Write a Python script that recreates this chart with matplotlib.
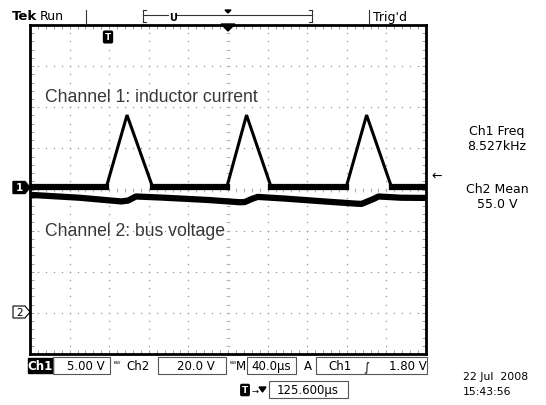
import numpy as np
import matplotlib
matplotlib.use("Agg")
import matplotlib.pyplot as plt
from matplotlib.patches import Polygon, Rectangle

# ---------------- data ----------------
# Channel 1: inductor current (A, displayed 5.00 V/div), time in microseconds
ch1_t = [-200, -123, -102, -76, -1.3, 18.7, 43.7, 119.3, 140, 165.3, 200]
ch1_a = [0, 0, 8.8, 0, 0, 8.8, 0, 0, 8.8, 0, 0]
# Channel 2: bus voltage (V, 20.0 V/div)
ch2_t = [-200, -150, -108, -101, -93, -68, -20, 12, 17, 24, 30, 57, 100, 130, 135, 147, 152, 175, 200]
ch2_v = [57.0, 55.6, 53.8, 54.2, 56.2, 55.7, 54.5, 53.4, 53.5, 55.0, 56.0, 55.2, 53.7, 52.7, 52.6, 55.0, 56.2, 55.6, 55.5]

ch1_scale = 5.0     # per division
ch2_scale = 20.0
ch1_offset = 0.05   # divisions
ch2_offset = -2.98

W, H = 546, 406
fig = plt.figure(figsize=(W / 100, H / 100), dpi=100)
fig.patch.set_facecolor("white")

def fx(x):
    return x / W

def fy(y):
    return 1 - y / H

ax = fig.add_axes([fx(30), fy(355), 396 / W, 329 / H])
ax.set_xlim(-200, 200)
ax.set_ylim(-4, 4)
ax.set_facecolor("white")

# graticule dots
gcol = "#9a9a9a"
dots_x = np.arange(-200, 200.1, 8)
dots_y = np.arange(-4, 4.01, 0.2)
for gx in np.arange(-160, 161, 40):
    ax.scatter(np.full_like(dots_y, gx), dots_y, s=1.1, color=gcol, lw=0, zorder=1)
for gy in np.arange(-3, 3.1, 1):
    ax.scatter(dots_x, np.full_like(dots_x, gy, dtype=float), s=1.1, color=gcol, lw=0, zorder=1)
# center cross tick marks
ax.scatter(dots_x, np.zeros_like(dots_x), marker="|", s=10, color="#b0b0b0", lw=0.6, zorder=1)
ax.scatter(np.zeros_like(dots_y), dots_y, marker="_", s=10, color="#b0b0b0", lw=0.6, zorder=1)

# edge ticks
ax.set_xticks(np.arange(-200, 201, 40))
ax.set_xticks(np.arange(-200, 201, 8), minor=True)
ax.set_yticks(np.arange(-4, 4.1, 1))
ax.set_yticks(np.arange(-4, 4.01, 0.2), minor=True)
ax.tick_params(which="both", direction="in", top=True, right=True, length=3,
               width=0.7, color=gcol, labelbottom=False, labelleft=False)
for s in ax.spines.values():
    s.set_linewidth(2)
    s.set_color("black")

# traces
c1 = np.array(ch1_a) / ch1_scale + ch1_offset
c2 = np.array(ch2_v) / ch2_scale + ch2_offset
ax.plot(ch1_t, c1, color="black", lw=2.2, zorder=3, solid_joinstyle="miter")
c1_base = np.where(np.array(ch1_a) == 0, c1, np.nan)
ax.plot(ch1_t, c1_base, color="black", lw=4.5, zorder=3)
ax.plot(ch2_t, c2, color="black", lw=4.5, zorder=3)

# annotations inside
fig.text(fx(45), fy(97), "Channel 1: inductor current", fontsize=12.7,
         family="Liberation Sans", color="#383838", va="center", ha="left")
fig.text(fx(45), fy(232), "Channel 2: bus voltage", fontsize=12.7,
         family="Liberation Sans", color="#383838", va="center", ha="left")

mono = "DejaVu Sans"
# ---------------- top bar ----------------
fig.text(fx(12), fy(17), "Tek", fontsize=9.5, fontweight="bold", family=mono, va="center")
fig.text(fx(40), fy(17), "Run", fontsize=9, family=mono, va="center")
fig.text(fx(373), fy(17), "Trig'd", fontsize=9, family=mono, va="center")
lines = [
    ((86, 86), (11, 25)), ((369, 369), (11, 25)),
    ((143, 312), (16, 16)), ((143, 143), (11, 23)), ((312, 312), (11, 23)),
    ((143, 146), (11, 11)), ((143, 146), (23, 23)), ((309, 312), (11, 11)), ((309, 312), (23, 23)),
]
for (xs, ys) in lines:
    fig.add_artist(plt.Line2D([fx(v) for v in xs], [fy(v) for v in ys], color="#333333", lw=0.8))
fig.text(fx(173), fy(18), "U", fontsize=7, fontweight="bold", family=mono,
         ha="center", va="center", color="black",
         bbox=dict(boxstyle="square,pad=0.05", fc="white", ec="none"))
fig.add_artist(Polygon([[fx(225), fy(11)], [fx(231), fy(11)], [fx(228), fy(14)]],
                       closed=True, color="black"))
# trigger position marker on top border
fig.add_artist(Polygon([[fx(221), fy(25)], [fx(235), fy(25)], [fx(228), fy(32)]],
                       closed=True, color="black", zorder=5))
# T marker
fig.text(fx(108), fy(38), "T", fontsize=6.5, fontweight="bold", family=mono,
         ha="center", va="center", color="white",
         bbox=dict(boxstyle="round,pad=0.15", fc="black", ec="black"))

# channel ground markers
y1 = 188.5
fig.add_artist(Polygon([[fx(13), fy(y1 - 6)], [fx(25), fy(y1 - 6)], [fx(30), fy(y1)],
                        [fx(25), fy(y1 + 6)], [fx(13), fy(y1 + 6)]], closed=True,
                       fc="black", ec="black", zorder=5))
fig.text(fx(19.5), fy(y1), "1", fontsize=7.5, fontweight="bold", family=mono,
         ha="center", va="center", color="white", zorder=6)
y2 = 313
fig.add_artist(Polygon([[fx(13), fy(y2 - 6)], [fx(25), fy(y2 - 6)], [fx(30), fy(y2)],
                        [fx(25), fy(y2 + 6)], [fx(13), fy(y2 + 6)]], closed=True,
                       fc="white", ec="black", lw=0.8, zorder=5))
fig.text(fx(19.5), fy(y2), "2", fontsize=7.5, family=mono,
         ha="center", va="center", color="black", zorder=6)

# trigger level arrow on right
fig.text(fx(437), fy(176), "\u2190", fontsize=9, family=mono, ha="center", va="center")

# right-side readouts
fig.text(fx(497), fy(131), "Ch1 Freq", fontsize=9, family=mono, ha="center", va="center")
fig.text(fx(497), fy(146), "8.527kHz", fontsize=9, family=mono, ha="center", va="center")
fig.text(fx(497), fy(190), "Ch2 Mean", fontsize=9, family=mono, ha="center", va="center")
fig.text(fx(497), fy(204), "55.0 V", fontsize=9, family=mono, ha="center", va="center")

# ---------------- bottom status bar ----------------
sb_y = 367
fs = 8.5
fig.add_artist(Rectangle((fx(28), fy(374)), (53 - 28) / W, 15 / H, fc="black", ec="black"))
fig.text(fx(40.5), fy(sb_y), "Ch1", fontsize=fs, fontweight="bold", family=mono,
         ha="center", va="center", color="white")
boxes = [(53, 110), (158, 226), (247, 296), (316, 427)]
for (a, b) in boxes:
    fig.add_artist(Rectangle((fx(a), fy(375)), (b - a) / W, 17 / H, fc="none", ec="#555555", lw=0.8))
fig.text(fx(86), fy(sb_y), "5.00 V", fontsize=fs, family=mono, ha="center", va="center")
fig.text(fx(117), fy(sb_y - 2), "\u1d2e\u1d42", fontsize=5, family=mono, ha="center", va="center")
fig.text(fx(138), fy(sb_y), "Ch2", fontsize=fs, family=mono, ha="center", va="center")
fig.text(fx(196), fy(sb_y), "20.0 V", fontsize=fs, family=mono, ha="center", va="center")
fig.text(fx(233), fy(sb_y - 2), "\u1d2e\u1d42", fontsize=5, family=mono, ha="center", va="center")
fig.text(fx(241), fy(sb_y), "M", fontsize=fs, family=mono, ha="center", va="center")
fig.text(fx(271.5), fy(sb_y), "40.0\u00b5s", fontsize=fs, family=mono, ha="center", va="center")
fig.text(fx(308), fy(sb_y), "A", fontsize=fs, family=mono, ha="center", va="center")
fig.text(fx(340), fy(sb_y), "Ch1", fontsize=fs, family=mono, ha="center", va="center")
fig.text(fx(366), fy(sb_y), "\u222b", fontsize=fs, family=mono, ha="center", va="center")
fig.text(fx(408), fy(sb_y), "1.80 V", fontsize=fs, family=mono, ha="center", va="center")

# bottom second line
fig.text(fx(245), fy(391), "T", fontsize=6.5, fontweight="bold", family=mono,
         ha="center", va="center", color="white",
         bbox=dict(boxstyle="round,pad=0.12", fc="black", ec="black"))
fig.text(fx(255), fy(391), "\u2192", fontsize=6, family=mono, ha="center", va="center")
fig.add_artist(Polygon([[fx(259), fy(388)], [fx(266), fy(388)], [fx(262.5), fy(393)]],
                       closed=True, color="black"))
fig.add_artist(Rectangle((fx(269), fy(399)), (348 - 269) / W, 17 / H, fc="none", ec="#555555", lw=0.8))
fig.text(fx(308), fy(391), "125.600\u00b5s", fontsize=fs, family=mono, ha="center", va="center")
fig.text(fx(463), fy(377), "22 Jul  2008", fontsize=7.8, family=mono, ha="left", va="center")
fig.text(fx(463), fy(392), "15:43:56", fontsize=7.8, family=mono, ha="left", va="center")

fig.savefig("out.png", dpi=100, facecolor="white")
